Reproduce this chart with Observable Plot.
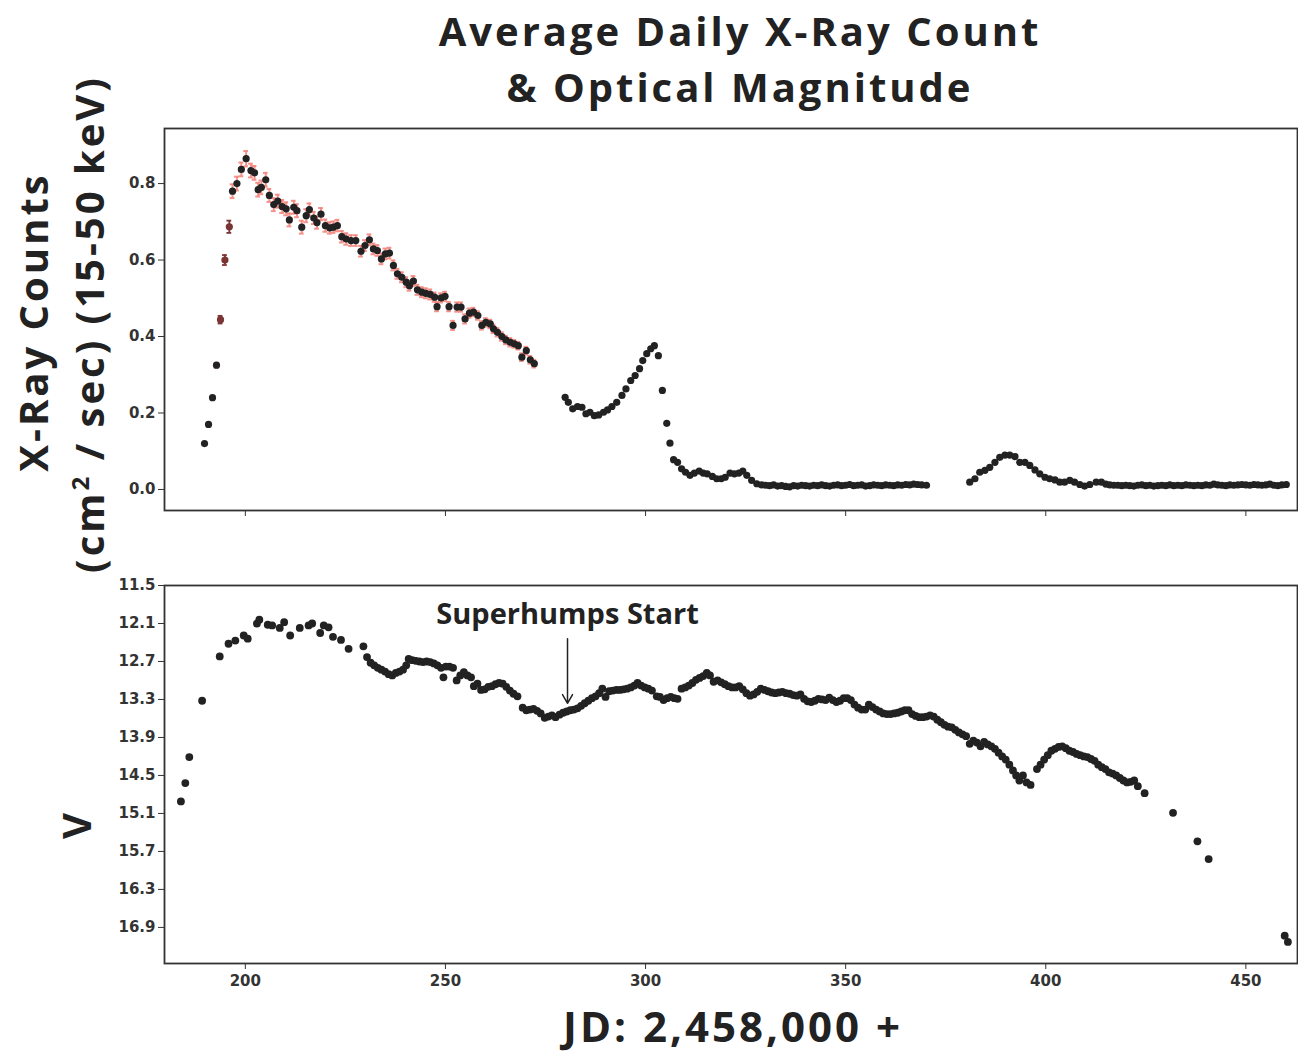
<!DOCTYPE html>
<html><head><meta charset="utf-8">
<script src="https://cdn.jsdelivr.net/npm/d3@7"></script>
<script src="https://cdn.jsdelivr.net/npm/@observablehq/plot@0.6"></script>
<style>
body{margin:0;background:#fff;}
#wrap{position:relative;width:1298px;height:1053px;overflow:hidden;font-family:"Open Sans",sans-serif;color:#222;}
.abs{position:absolute;white-space:nowrap;font-weight:700;}
.rot{transform:translate(-50%,-50%) rotate(-90deg);}
sup{font-size:0.6em;line-height:0;}
</style></head><body>
<div id="wrap">
<div class="abs" style="left:182px;width:1116px;top:3px;text-align:center;font-size:40px;line-height:56px;letter-spacing:3px;">Average Daily X-Ray Count<br>&amp; Optical Magnitude</div>
<div class="abs rot" style="left:32px;top:322px;font-size:40px;letter-spacing:3px;">X-Ray Counts</div>
<div class="abs rot" style="left:88px;top:324px;font-size:40px;letter-spacing:3px;">(cm<sup>2</sup> / sec) (15-50 keV)</div>
<div class="abs rot" style="left:75px;top:826px;font-size:40px;">V</div>
<div class="abs" style="left:433px;width:600px;top:1003px;text-align:center;font-size:42px;line-height:46px;letter-spacing:3px;">JD: 2,458,000 +</div>
<div id="top" style="position:absolute;left:0;top:120px;"></div>
<div id="bot" style="position:absolute;left:0;top:560px;"></div>
</div>
<script>
// ---------- X-ray panel data ----------
const xTicks = [200, 250, 300, 350, 400, 450];
const xrayTicks = [0.0, 0.2, 0.4, 0.6, 0.8];
const vTicks = [11.5, 12.1, 12.7, 13.3, 13.9, 14.5, 15.1, 15.7, 16.3, 16.9];

// brown rise points
const riseJD = [193.8, 194.9, 196.0];
const riseCount = [0.444, 0.600, 0.687];
const riseErr = [0.010, 0.013, 0.016];

// peak / decline with pink error bars
const peakJD = [
  192.8,196.8,197.9,199.0,200.2,201.4,202.3,203.2,204.0,205.1,
  206.0,207.1,208.1,209.2,210.2,211.0,212.1,212.9,214.1,215.2,
  216.0,217.1,217.9,218.9,220.0,221.1,222.0,223.0,224.1,225.2,
  226.4,227.6,228.9,229.9,231.0,232.0,233.0,234.0,235.0,236.0,
  237.0,238.0,239.1,240.2,241.0,242.0,243.0,244.1,245.1,246.2,
  247.3,247.9,248.9,249.9,250.9,251.9,252.9,253.9,254.9,256.0,
  257.0,258.1,259.1,260.1,261.2,262.0,263.0,264.1,265.1,266.2,
  267.2,268.2,269.1,270.2,271.2,272.2];
const peakCount = [
  0.325,0.780,0.800,0.837,0.865,0.834,0.828,0.784,0.790,0.810,
  0.769,0.745,0.754,0.740,0.734,0.705,0.738,0.729,0.686,0.716,
  0.732,0.710,0.698,0.720,0.690,0.684,0.686,0.690,0.661,0.655,
  0.651,0.651,0.623,0.638,0.653,0.629,0.625,0.603,0.616,0.618,
  0.586,0.564,0.555,0.542,0.533,0.545,0.522,0.516,0.513,0.510,
  0.503,0.478,0.501,0.505,0.478,0.429,0.477,0.477,0.446,0.461,
  0.464,0.455,0.429,0.437,0.433,0.420,0.411,0.400,0.391,0.385,
  0.381,0.376,0.346,0.363,0.339,0.329];
const peakErr = [
  0.006,0.018,0.018,0.018,0.020,0.018,0.018,0.018,0.018,0.018,
  0.017,0.017,0.017,0.017,0.017,0.017,0.017,0.017,0.017,0.017,
  0.016,0.016,0.016,0.016,0.016,0.015,0.015,0.015,0.015,0.015,
  0.014,0.014,0.014,0.014,0.014,0.014,0.014,0.014,0.014,0.014,
  0.013,0.013,0.013,0.013,0.013,0.013,0.013,0.013,0.013,0.013,
  0.012,0.012,0.012,0.012,0.012,0.012,0.012,0.012,0.012,0.012,
  0.011,0.011,0.011,0.011,0.011,0.011,0.011,0.011,0.011,0.011,
  0.010,0.010,0.010,0.010,0.010,0.010];

// second bump with faint error bars
const bumpJD = [
  279.9,280.7,281.8,283.0,284.1,285.1,286.1,287.2,288.3,289.5,
  290.5,291.6,292.8,294.1,295.1,296.3,297.4,298.5,299.3,300.3,
  301.3,302.2,303.2];
const bumpCount = [
  0.241,0.228,0.211,0.217,0.215,0.198,0.202,0.193,0.195,0.202,
  0.208,0.217,0.228,0.246,0.263,0.285,0.298,0.316,0.337,0.355,
  0.368,0.376,0.350];
const bumpErr = [
  0.005,0.005,0.005,0.005,0.005,0.005,0.005,0.005,0.005,0.005,
  0.005,0.005,0.005,0.005,0.005,0.005,0.005,0.005,0.005,0.005,
  0.005,0.005,0.005];

// points without visible error bars
const quietJD = [
  189.8,190.8,191.8,
  304.2,305.3,306.1,307.0,308.0,309.0,310.0,311.1,312.2,313.4,
  314.4,315.4,316.7,317.8,318.9,319.9,321.1,322.2,323.3,324.3,
  325.3,326.5,327.8,329,330,331,332,333,334,335,
  336,337,338,339,340,341,342,343,344,345,
  346,347,348,349,350,351,352,353,354,355,
  356,357,358,359,360,361,362,363,364,365,
  366,367,368,369,370.2,
  381.0,382.3,383.5,384.8,386.0,387.3,388.5,389.8,391.0,392.3,
  393.5,394.8,396.0,397.3,398.5,399.8,401.0,402.3,403.5,404.7,
  406.0,407.2,408.5,409.7,411.0,412.6,413.9,415,416,417,
  418,419,420,421,422,423,424,425,426,427,
  428,429,430,431,432,433,434,435,436,437,
  438,439,440,441,442,443,444,445,446,447,
  448,449,450,451,452,453,454,455,456,457,
  458,459,460.1];
const quietCount = [
  0.120,0.170,0.240,
  0.259,0.173,0.121,0.078,0.071,0.054,0.045,0.037,0.043,0.048,
  0.043,0.041,0.034,0.028,0.028,0.032,0.043,0.041,0.043,0.048,
  0.037,0.024,0.015,0.012,0.011,0.010,0.012,0.009,0.010,0.008,
  0.007,0.010,0.009,0.011,0.010,0.009,0.011,0.010,0.012,0.010,
  0.009,0.011,0.012,0.010,0.011,0.013,0.010,0.011,0.012,0.009,
  0.010,0.012,0.011,0.010,0.012,0.011,0.010,0.012,0.011,0.013,
  0.012,0.014,0.013,0.012,0.011,
  0.019,0.028,0.045,0.050,0.058,0.071,0.084,0.090,0.090,0.086,
  0.071,0.071,0.063,0.051,0.041,0.032,0.028,0.025,0.019,0.019,
  0.024,0.019,0.013,0.009,0.013,0.019,0.019,0.014,0.012,0.011,
  0.011,0.010,0.011,0.010,0.009,0.011,0.012,0.010,0.011,0.009,
  0.010,0.011,0.010,0.012,0.010,0.011,0.010,0.012,0.011,0.010,
  0.011,0.010,0.012,0.011,0.014,0.012,0.011,0.010,0.012,0.011,
  0.012,0.013,0.012,0.011,0.013,0.012,0.011,0.012,0.014,0.011,
  0.010,0.012,0.013];

// ---------- Optical (V) panel data ----------
const vJD = [
  183.9,185.0,186.0,189.2,193.6,195.8,197.5,199.6,200.6,202.9,
  203.5,205.6,206.7,208.6,209.7,211.2,213.6,215.8,216.7,218.7,
  219.6,220.8,221.9,223.9,225.8,229.5,230.4,231.3,232.2,233.1,
  234.0,234.9,235.8,236.7,237.6,238.5,239.4,240.2,240.8,241.7,
  242.6,243.5,244.4,245.3,246.2,247.1,248.0,248.9,249.5,250.1,
  251.0,251.9,252.8,253.7,254.6,255.5,256.4,257.1,258.0,258.9,
  259.8,260.7,261.6,262.5,263.4,264.3,265.2,266.1,267.0,268.0,
  269.3,270.2,271.1,272.0,272.9,273.8,274.8,275.7,276.6,277.5,
  278.5,279.4,280.3,281.2,282.1,283.0,283.9,284.8,285.7,286.6,
  287.5,288.4,289.2,290.0,290.9,291.8,292.7,293.6,294.5,295.4,
  296.3,297.2,298.0,298.9,299.8,300.7,301.6,302.8,303.6,304.5,
  305.4,306.3,307.2,308.0,309.0,309.9,310.8,311.7,312.6,313.5,
  314.4,315.3,316.1,317.0,318.0,318.9,319.8,320.7,321.6,322.5,
  323.4,324.3,325.2,326.1,327.0,327.9,328.8,329.7,330.6,331.5,
  332.4,333.3,334.2,335.1,336.0,336.9,337.8,338.7,339.6,340.5,
  341.4,342.3,343.2,344.1,345.0,345.9,346.8,347.7,348.6,349.5,
  350.4,351.3,352.2,353.1,354.0,354.9,355.8,356.7,357.6,358.5,
  359.4,360.3,361.2,362.1,363.0,363.9,364.8,365.7,366.6,367.5,
  368.4,369.3,370.2,371.1,372.0,372.9,373.8,374.7,375.6,376.5,
  377.4,378.3,379.2,380.1,381.0,381.9,382.8,383.7,384.6,385.5,
  386.4,387.3,388.2,389.1,390.0,390.9,391.8,392.6,393.4,394.3,
  395.2,396.2,397.8,398.7,399.6,400.5,401.4,402.3,403.2,404.1,
  405.0,405.9,406.8,407.7,408.6,409.5,410.4,411.3,412.2,413.1,
  414.0,414.9,415.8,416.7,417.6,418.5,419.4,420.3,421.2,422.1,
  423.0,424.7,431.8,437.9,440.7,459.7,460.5];
const vMag = [
  14.91,14.62,14.21,13.32,12.62,12.42,12.37,12.29,12.34,12.10,
  12.04,12.12,12.13,12.17,12.08,12.29,12.17,12.13,12.10,12.25,
  12.13,12.16,12.31,12.36,12.50,12.46,12.63,12.72,12.76,12.80,
  12.83,12.86,12.90,12.92,12.88,12.86,12.83,12.76,12.66,12.68,
  12.69,12.70,12.71,12.70,12.71,12.73,12.76,12.80,12.95,12.78,
  12.78,12.80,13.00,12.92,12.87,12.92,12.95,13.09,13.05,13.15,
  13.14,13.10,13.09,13.06,13.04,13.05,13.10,13.16,13.21,13.25,
  13.43,13.47,13.46,13.45,13.48,13.52,13.59,13.57,13.55,13.58,
  13.54,13.51,13.49,13.47,13.46,13.44,13.40,13.36,13.32,13.28,
  13.25,13.20,13.13,13.26,13.17,13.16,13.15,13.15,13.14,13.13,
  13.11,13.08,13.04,13.08,13.11,13.13,13.16,13.25,13.26,13.31,
  13.28,13.26,13.28,13.29,13.13,13.11,13.08,13.04,12.99,12.96,
  12.93,12.88,12.92,13.02,13.00,13.03,13.06,13.09,13.11,13.11,
  13.09,13.14,13.20,13.24,13.22,13.18,13.13,13.15,13.17,13.19,
  13.20,13.19,13.18,13.20,13.21,13.23,13.24,13.22,13.29,13.33,
  13.34,13.32,13.29,13.30,13.31,13.27,13.31,13.34,13.32,13.28,
  13.28,13.31,13.38,13.43,13.46,13.46,13.38,13.42,13.46,13.49,
  13.52,13.53,13.53,13.52,13.51,13.49,13.47,13.47,13.53,13.56,
  13.58,13.58,13.57,13.55,13.57,13.62,13.66,13.70,13.73,13.74,
  13.78,13.82,13.85,13.88,14.00,13.95,13.98,14.04,13.97,14.01,
  14.04,14.08,14.14,14.20,14.25,14.33,14.42,14.50,14.58,14.50,
  14.61,14.65,14.40,14.33,14.25,14.18,14.11,14.08,14.05,14.04,
  14.07,14.11,14.13,14.16,14.18,14.20,14.21,14.24,14.27,14.33,
  14.37,14.40,14.45,14.47,14.50,14.54,14.58,14.61,14.60,14.58,
  14.67,14.78,15.09,15.54,15.82,17.03,17.13];

// annotation
const annText = "Superhumps Start";
const annJD = 280.5;
const annLabelV = 11.96;
const annArrowFromV = 12.34;
const annArrowToV = 13.36;

// ---------- build tables ----------
const tbl = (jd, val, err) => jd.map((d, i) => ({jd: d, v: val[i], e: err ? err[i] : 0}));
const rise = tbl(riseJD, riseCount, riseErr);
const peak = tbl(peakJD, peakCount, peakErr);
const bump = tbl(bumpJD, bumpCount, bumpErr);
const quiet = tbl(quietJD, quietCount);
const optical = tbl(vJD, vMag);

const pink = "#f3867e";
const brown = "#7a3434";
const ink = "#222";
const capW = 0.6;

function errMarks(data, color, width, opacity) {
  return [
    Plot.ruleX(data, {x: "jd", y1: d => d.v - d.e, y2: d => d.v + d.e, stroke: color, strokeWidth: width, strokeOpacity: opacity}),
    Plot.ruleY(data, {y: d => d.v + d.e, x1: d => d.jd - capW, x2: d => d.jd + capW, stroke: color, strokeWidth: width, strokeOpacity: opacity}),
    Plot.ruleY(data, {y: d => d.v - d.e, x1: d => d.jd - capW, x2: d => d.jd + capW, stroke: color, strokeWidth: width, strokeOpacity: opacity})
  ];
}

const axisStyle = {fontFamily: "DejaVu Sans", fontSize: "15px", fontWeight: "bold", color: "#333", background: "transparent", overflow: "visible"};
const xDomain = [179.8, 462.9];

const topPlot = Plot.plot({
  width: 1298, height: 410,
  marginLeft: 164, marginRight: 1, marginTop: 8, marginBottom: 20,
  style: axisStyle,
  x: {domain: xDomain, ticks: xTicks, tickFormat: () => "", label: null, tickSize: 6},
  y: {domain: [-0.055, 0.944], ticks: xrayTicks, tickFormat: d => d.toFixed(1), label: null, tickSize: 6},
  marks: [
    ...errMarks(peak, pink, 2, 0.9),
    ...errMarks(bump, pink, 1.3, 0.5),
    ...errMarks(rise, brown, 1.8, 1),
    Plot.dot(quiet, {x: "jd", y: "v", r: 3.6, fill: ink}),
    Plot.dot(peak, {x: "jd", y: "v", r: 3.6, fill: ink}),
    Plot.dot(bump, {x: "jd", y: "v", r: 3.6, fill: ink}),
    Plot.dot(rise, {x: "jd", y: "v", r: 3.6, fill: brown}),
    Plot.frame({stroke: "#333", strokeWidth: 1.8})
  ]
});
document.getElementById("top").append(topPlot);

const botPlot = Plot.plot({
  width: 1298, height: 440,
  marginLeft: 164, marginRight: 1, marginTop: 25, marginBottom: 37,
  style: axisStyle,
  x: {domain: xDomain, ticks: xTicks, tickFormat: d => String(d), label: null, tickSize: 6, tickPadding: 6},
  y: {domain: [17.47, 11.5], ticks: vTicks, tickFormat: d => d.toFixed(1), label: null, tickSize: 6},
  marks: [
    Plot.dot(optical, {x: "jd", y: "v", r: 3.9, fill: ink}),
    Plot.arrow([0], {x1: () => annJD, x2: () => annJD, y1: () => annArrowFromV, y2: () => annArrowToV, stroke: ink, strokeWidth: 1.5, headLength: 10}),
    Plot.text([annText], {x: () => annJD, y: () => annLabelV, text: d => d, fontSize: 29, fontWeight: "bold", fontFamily: "Open Sans", fill: ink}),
    Plot.frame({stroke: "#333", strokeWidth: 1.8})
  ]
});
document.getElementById("bot").append(botPlot);
</script>
</body></html>
